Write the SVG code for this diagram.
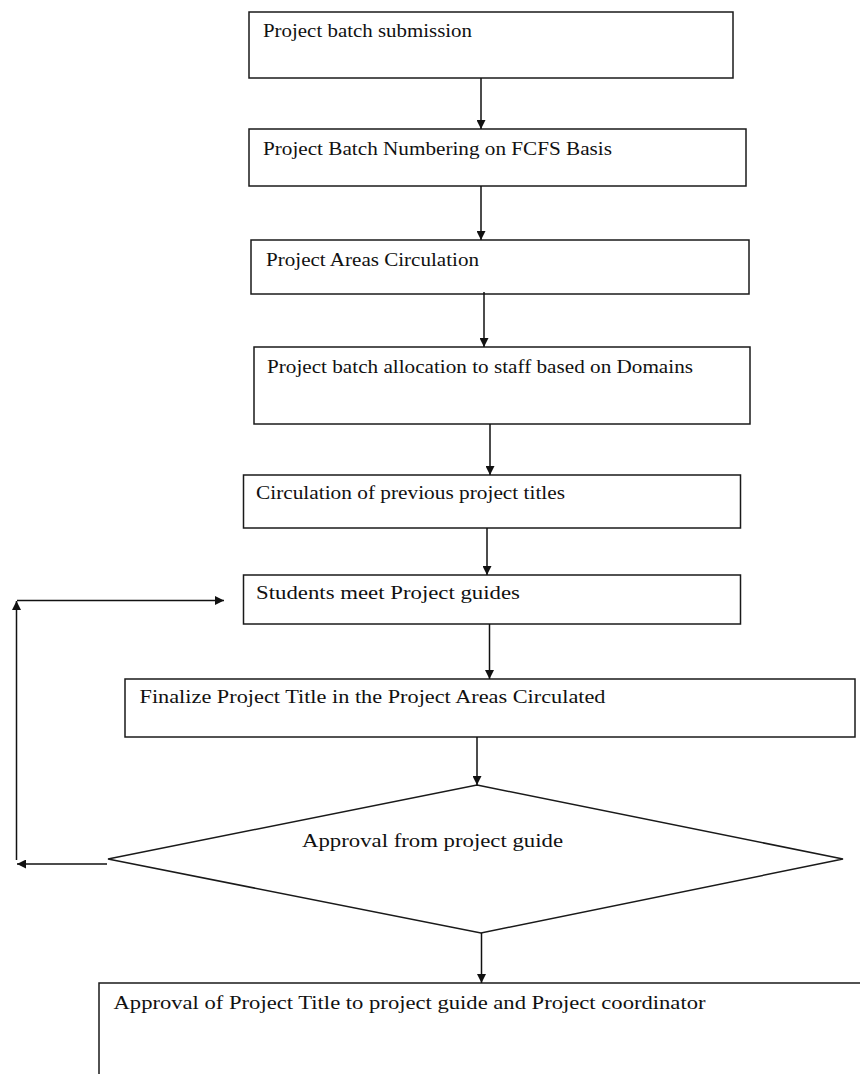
<svg xmlns="http://www.w3.org/2000/svg" width="860" height="1074" viewBox="0 0 860 1074">
  <style>
    .box { fill: #fff; stroke: #1a1a1a; stroke-width: 1.5; }
    .lbl { font-family: "Liberation Serif", "Times New Roman", serif; font-size: 19px; fill: #111; }
    .edge { fill: none; stroke: #111; stroke-width: 1.5; }
  </style>
  <defs>
    <marker id="arrow" viewBox="0 0 10 10" refX="10" refY="5" markerWidth="10" markerHeight="9" markerUnits="userSpaceOnUse" orient="auto">
      <path d="M0,0 L10,5 L0,10 Z" fill="#111"/>
    </marker>
  </defs>
  <rect width="860" height="1074" fill="#fff"/>

  <g id="n1-submission">
    <rect class="box" x="249" y="12" width="484" height="66"/>
    <text class="lbl" x="263" y="37" textLength="209" lengthAdjust="spacingAndGlyphs">Project batch submission</text>
  </g>
  <g id="n2-numbering">
    <rect class="box" x="249" y="129" width="497" height="57"/>
    <text class="lbl" x="263" y="155" textLength="349" lengthAdjust="spacingAndGlyphs">Project Batch Numbering on FCFS Basis</text>
  </g>
  <g id="n3-areas">
    <rect class="box" x="251" y="240" width="498" height="54"/>
    <text class="lbl" x="266" y="266" textLength="213" lengthAdjust="spacingAndGlyphs">Project Areas Circulation</text>
  </g>
  <g id="n4-allocation">
    <rect class="box" x="254" y="347" width="496" height="77"/>
    <text class="lbl" x="267" y="373" textLength="426" lengthAdjust="spacingAndGlyphs">Project batch allocation to staff based on Domains</text>
  </g>
  <g id="n5-previous-titles">
    <rect class="box" x="243.5" y="475" width="497" height="53"/>
    <text class="lbl" x="256" y="499" textLength="309" lengthAdjust="spacingAndGlyphs">Circulation of previous project titles</text>
  </g>
  <g id="n6-meet-guides">
    <rect class="box" x="243.5" y="575" width="497" height="49"/>
    <text class="lbl" x="256" y="599" textLength="264" lengthAdjust="spacingAndGlyphs">Students meet Project guides</text>
  </g>
  <g id="n7-finalize">
    <rect class="box" x="125" y="679" width="730" height="58"/>
    <text class="lbl" x="139.5" y="703" textLength="466" lengthAdjust="spacingAndGlyphs">Finalize Project Title in the Project Areas Circulated</text>
  </g>
  <g id="n8-guide-approval">
    <polygon class="box" points="477,785 843,859 481,933 108,859"/>
    <text class="lbl" x="302" y="847" textLength="261" lengthAdjust="spacingAndGlyphs">Approval from project guide</text>
  </g>
  <g id="n9-title-approval">
    <rect class="box" x="99" y="983" width="780" height="110"/>
    <text class="lbl" x="113.5" y="1009" textLength="592" lengthAdjust="spacingAndGlyphs">Approval of Project Title to project guide and Project coordinator</text>
  </g>

  <g id="connectors">
    <line class="edge" x1="481" y1="78" x2="481" y2="129" marker-end="url(#arrow)"/>
    <line class="edge" x1="481" y1="186" x2="481" y2="240" marker-end="url(#arrow)"/>
    <line class="edge" x1="484" y1="292" x2="484" y2="347" marker-end="url(#arrow)"/>
    <line class="edge" x1="490" y1="424" x2="490" y2="475" marker-end="url(#arrow)"/>
    <line class="edge" x1="487" y1="528" x2="487" y2="575" marker-end="url(#arrow)"/>
    <line class="edge" x1="489.5" y1="624" x2="489.5" y2="679" marker-end="url(#arrow)"/>
    <line class="edge" x1="477" y1="737" x2="477" y2="785" marker-end="url(#arrow)"/>
    <line class="edge" x1="481.5" y1="933" x2="481.5" y2="983" marker-end="url(#arrow)"/>
    <!-- rejection loop back to the guide meeting -->
    <line class="edge" x1="107" y1="864" x2="17" y2="864" marker-end="url(#arrow)"/>
    <line class="edge" x1="16.5" y1="860" x2="16.5" y2="601" marker-end="url(#arrow)"/>
    <line class="edge" x1="17" y1="600.5" x2="224" y2="600.5" marker-end="url(#arrow)"/>
  </g>
</svg>
